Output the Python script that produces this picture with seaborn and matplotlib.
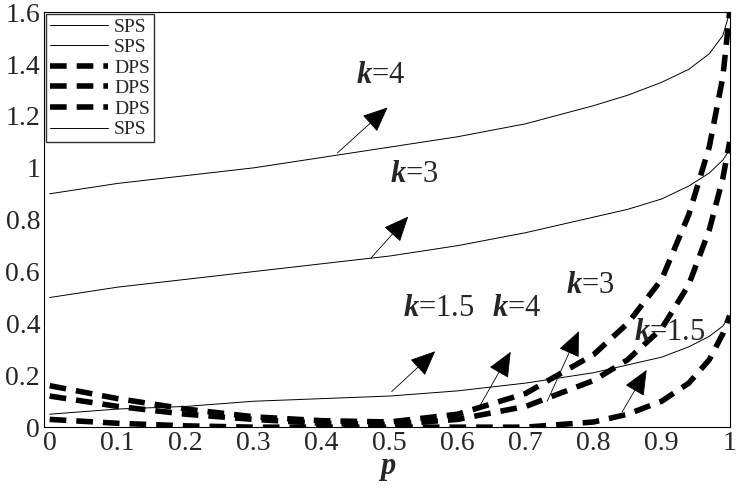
import numpy as np
import pandas as pd
import matplotlib
matplotlib.use('Agg')
import matplotlib.pyplot as plt
import seaborn as sns

sns.set_style('white')
plt.rcParams['font.family'] = ['Liberation Serif', 'DejaVu Serif']
plt.rcParams['mathtext.fontset'] = 'custom'
plt.rcParams['mathtext.it'] = 'Liberation Serif:italic:bold'
plt.rcParams['mathtext.rm'] = 'Liberation Serif'

p = [0, 0.1, 0.2, 0.3, 0.4, 0.5, 0.6, 0.7, 0.8, 0.85, 0.9, 0.94, 0.97, 0.99, 1.0]
sps_k4 = [0.90, 0.94, 0.97, 1.00, 1.04, 1.08, 1.12, 1.17, 1.24, 1.28, 1.33, 1.38, 1.44, 1.51, 1.60]
sps_k3 = [0.50, 0.54, 0.57, 0.60, 0.63, 0.66, 0.70, 0.75, 0.81, 0.84, 0.88, 0.93, 0.98, 1.03, 1.07]
sps_k15 = [0.05, 0.07, 0.08, 0.10, 0.11, 0.12, 0.14, 0.17, 0.21, 0.24, 0.27, 0.31, 0.35, 0.39, 0.43]
dps_k4 = [0.16, 0.11, 0.07, 0.04, 0.025, 0.02, 0.05, 0.13, 0.28, 0.40, 0.57, 0.82, 1.08, 1.35, 1.60]
dps_k3 = [0.12, 0.08, 0.05, 0.03, 0.015, 0.01, 0.03, 0.08, 0.18, 0.26, 0.38, 0.55, 0.76, 0.96, 1.10]
dps_k15 = [0.03, 0.015, 0.005, 0.0, 0.0, 0.0, 0.0, 0.0, 0.02, 0.05, 0.10, 0.17, 0.26, 0.36, 0.43]

fig, ax = plt.subplots(figsize=(7.37, 4.91), dpi=100)
series = [(sps_k4, 'SPS', 'solid'), (sps_k3, 'SPS', 'solid'),
          (dps_k4, 'DPS', 'dashed'), (dps_k3, 'DPS', 'dashed'),
          (dps_k15, 'DPS', 'dashed'), (sps_k15, 'SPS', 'solid')]
for y, lab, st in series:
    if st == 'solid':
        sns.lineplot(x=p, y=y, ax=ax, color='black', lw=0.7, label=lab)
    else:
        sns.lineplot(x=p, y=y, ax=ax, color='black', lw=4, label=lab,
                     linestyle=(0, (3, 1.8)))

ann = [('$k$=4', (0.42, 1.05), (0.50, 1.24), (0.45, 1.30)),
       ('$k$=3', (0.47, 0.645), (0.53, 0.82), (0.50, 0.92)),
       ('$k$=1.5', (0.50, 0.13), (0.57, 0.30), (0.52, 0.40)),
       ('$k$=4', (0.63, 0.07), (0.68, 0.30), (0.65, 0.40)),
       ('$k$=3', (0.73, 0.09), (0.78, 0.38), (0.76, 0.49)),
       ('$k$=1.5', (0.84, 0.05), (0.88, 0.23), (0.86, 0.31))]
for txt, tail, head, tpos in ann:
    ax.annotate('', xy=head, xytext=tail,
                arrowprops=dict(arrowstyle='-|>,head_length=1.6,head_width=0.7',
                                color='black', lw=0.6))
    ax.text(tpos[0], tpos[1], txt, fontsize=22, ha='left', va='bottom')

ax.set_xlim(-0.008, 1)
ax.set_ylim(0, 1.6)
xt = np.round(np.arange(0, 1.01, 0.1), 1)
yt = np.round(np.arange(0, 1.61, 0.2), 1)
ax.set_xticks(xt)
ax.set_xticklabels(['0'] + [str(v) for v in xt[1:-1]] + ['1'], fontsize=20)
ax.set_yticks(yt)
ax.set_yticklabels(['0', '0.2', '0.4', '0.6', '0.8', '1', '1.2', '1.4', '1.6'], fontsize=20)
ax.tick_params(direction='in', length=4, pad=3)
ax.set_xlabel('$p$', fontsize=22, labelpad=-2)
for s in ax.spines.values():
    s.set_color('black')
    s.set_linewidth(0.8)
ax.legend(loc='upper left', fontsize=14, frameon=True, fancybox=False,
          edgecolor='black', handlelength=3.0, borderpad=0.2, labelspacing=0.15,
          borderaxespad=0.1, handletextpad=0.3)
plt.subplots_adjust(left=0.06, right=0.99, top=0.975, bottom=0.13)
fig.savefig('out.png', dpi=100)
